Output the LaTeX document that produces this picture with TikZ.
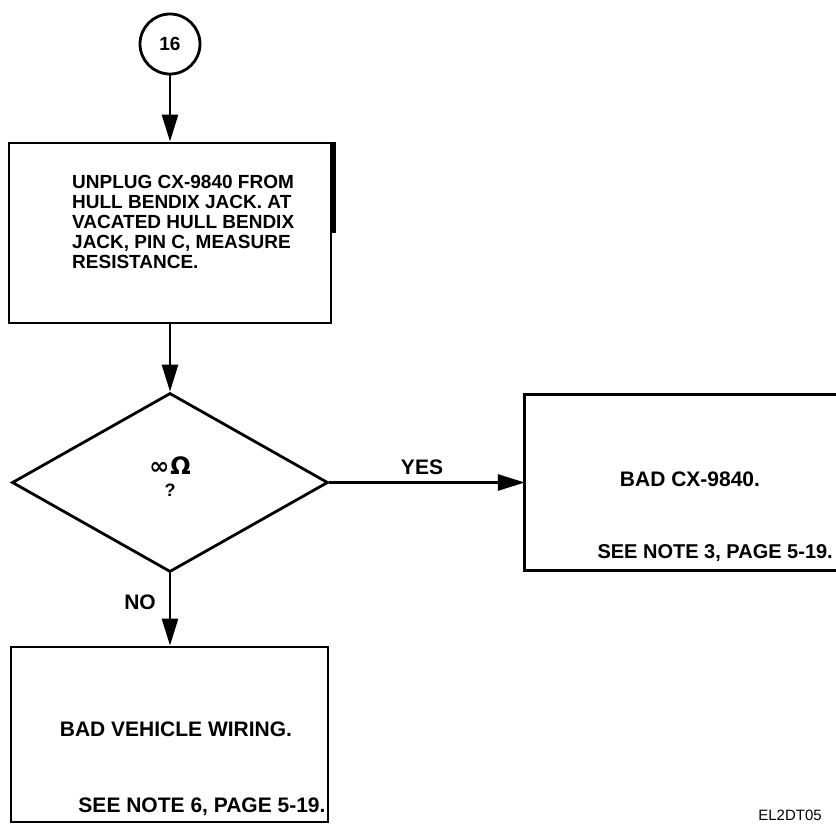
\documentclass[tikz,border=0pt]{standalone}
\usepackage{fontspec}
\setmainfont{Liberation Sans}
\newfontfamily\symfont{DejaVu Sans}
\usetikzlibrary{shapes.geometric,arrows.meta}
\begin{document}
\begin{tikzpicture}[x=1pt,y=-1pt,
  line/.style={line width=2.8pt},
  arr/.style={line width=2.8pt,-{Triangle[length=27pt,width=16pt]}},
  boxshape/.style={draw,line width=2.8pt,rectangle,inner sep=0pt},
  txt/.style={inner sep=0pt,font=\bfseries\fontsize{21}{23}\selectfont},
  smalltxt/.style={inner sep=0pt,font=\bfseries\fontsize{19}{20}\selectfont}
]
\useasboundingbox (0,0) rectangle (836,823);
% start connector
\node[circle,draw,line width=2.8pt,minimum size=60pt,inner sep=0pt,
      font=\bfseries\fontsize{19}{20}\selectfont] (c16) at (170,44) {16};
% first step box
\node[boxshape,minimum width=322pt,minimum height=180pt] (box1) at (170,233) {};
\draw[line width=4.5pt] ([xshift=1pt]box1.north east) -- ([xshift=1pt,yshift=-91pt]box1.north east);
\node[smalltxt,anchor=west,align=left] (t1) at (72,221.5)
  {UNPLUG CX-9840 FROM\\HULL BENDIX JACK. AT\\VACATED HULL BENDIX\\JACK, PIN C, MEASURE\\RESISTANCE.};
% decision
\node[diamond,draw,line width=2.8pt,minimum width=316pt,minimum height=179pt,inner sep=0pt] (dia) at (170,482.5) {};
\node[inner sep=0pt,font=\symfont\bfseries\fontsize{24}{24}\selectfont] (q1) at (170,466) {∞\kern1pt Ω};
\node[inner sep=0pt,font=\bfseries\fontsize{18}{18}\selectfont] (q2) at (170,490) {?};
% yes box
\node[inner sep=0pt,minimum width=312pt,minimum height=175pt] (box2) at (681,482.5) {};
\draw[line] (box2.north east) -- (box2.north west) -- (box2.south west) -- (box2.south east);
\node[txt] (t2a) at (690,479) {BAD CX-9840.};
\node[txt,anchor=east,font=\bfseries\fontsize{20}{22}\selectfont] (t2b) at (833,553) {SEE NOTE 3, PAGE 5-19.};
% no box
\node[boxshape,minimum width=317pt,minimum height=175pt] (box3) at (169.5,734.5) {};
\node[txt] (t3a) at (176,729) {BAD VEHICLE WIRING.};
\node[txt] (t3b) at (202,807) {SEE NOTE 6, PAGE 5-19.};
% connectors
\draw[arr] (c16) -- (c16 |- box1.north);
\draw[arr] (box1.south -| dia.north) -- (dia.north);
\draw[arr] (dia.east) -- (box2.west);
\draw[arr] (dia.south) -- (dia.south |- box3.north);
% labels
\node[txt] (yes) at (422,467) {YES};
\node[txt] (no) at (140,602) {NO};
\node[inner sep=0pt,font=\fontsize{15}{16}\selectfont] (code) at (790,815) {EL2DT05};
\end{tikzpicture}
\end{document}
